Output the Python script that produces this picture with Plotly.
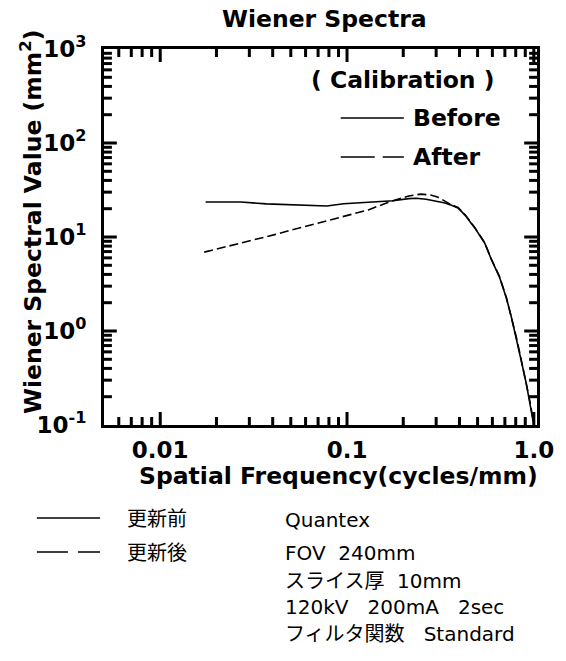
import plotly.graph_objects as go
import math

# ---- data ----
freq_before = [0.0175, 0.027, 0.037, 0.048, 0.061, 0.078, 0.096, 0.12, 0.149, 0.176,
               0.214, 0.235, 0.265, 0.297, 0.335, 0.365, 0.393, 0.428, 0.483, 0.546,
               0.594, 0.655, 0.713, 0.758, 0.805, 0.855, 0.910, 0.955, 0.991]
wiener_before = [23.6, 23.6, 22.5, 22.2, 21.6, 21.4, 22.6, 23.1, 23.6, 24.3,
                 25.6, 25.8, 25.2, 24.3, 23.0, 21.6, 20.4, 17.1, 12.5, 8.6,
                 5.7, 3.75, 2.24, 1.41, 0.86, 0.49, 0.28, 0.17, 0.11]

freq_after = [0.0172, 0.021, 0.027, 0.033, 0.041, 0.05, 0.062, 0.076, 0.093, 0.112,
              0.13, 0.168, 0.214, 0.248, 0.28, 0.305, 0.365, 0.393, 0.428, 0.483,
              0.546, 0.594, 0.655, 0.713, 0.758, 0.805, 0.855, 0.91, 0.955, 1.0]
wiener_after = [6.9, 7.6, 8.5, 9.5, 10.6, 11.8, 13.2, 14.6, 16.3, 18.0,
                19.4, 23.6, 27.3, 28.6, 28.0, 26.7, 21.8, 20.6, 17.3, 12.6,
                8.7, 5.75, 3.8, 2.26, 1.43, 0.87, 0.50, 0.285, 0.175, 0.1]

x_major_vals = [0.01, 0.1, 1.0]
x_major_text = ["0.01", "0.1", "1.0"]
y_major_vals = [0.1, 1, 10, 100, 1000]
y_major_text = ["10<sup>-1</sup>", "10<sup>0</sup>", "10<sup>1</sup>", "10<sup>2</sup>", "10<sup>3</sup>"]
digits = [2, 3, 4, 5, 6, 7, 8, 9]
x_decades = [0.001, 0.01, 0.1]
y_decades = [0.1, 1, 10, 100]

title_text = "Wiener Spectra"
x_title = "Spatial Frequency(cycles/mm)"
y_title = "Wiener Spectral Value (mm<sup>2</sup>)"
legend_head = "( Calibration )"
legend_names = ["Before", "After"]
jp_legend = ["更新前", "更新後"]
conditions = ["Quantex",
              "FOV\u00a0\u00a0240mm",
              "スライス厚\u00a0\u00a010mm",
              "120kV\u00a0\u00a0\u00a0200mA\u00a0\u00a0\u00a02sec",
              "フィルタ関数\u00a0\u00a0\u00a0Standard"]

# ---- layout geometry ----
W, H = 566, 661
L, R, T, B = 104, 23, 49, 236
PW, PH = W - L - R, H - T - B
X_MIN, X_MAX = 0.005, 1.04
Y_MIN, Y_MAX = 0.1, 1000
MINOR_LEN, MAJOR_LEN, TICK_W = 8, 13, 3

def px(xp):
    return (xp - L) / PW

def py(yp):
    return (H - B - yp) / PH

BOLD = dict(family="DejaVu Sans", color="black", size=23.5, weight="bold")
TICKF = dict(family="DejaVu Sans", color="black", size=23, weight="bold")
REG = dict(family="DejaVu Sans, Noto Sans CJK JP", color="black", size=20)

x_minor = [d * dec for dec in x_decades for d in digits if X_MIN < d * dec < X_MAX]
y_minor = [d * dec for dec in y_decades for d in digits if Y_MIN < d * dec < Y_MAX]

fig = go.Figure()
fig.add_trace(go.Scatter(x=freq_before, y=wiener_before, mode="lines",
                         name=legend_names[0], showlegend=False,
                         line=dict(color="black", width=1.6)))
fig.add_trace(go.Scatter(x=freq_after, y=wiener_after, mode="lines",
                         name=legend_names[1], showlegend=False,
                         line=dict(color="black", width=1.6, dash="9px,4px")))

fig.update_layout(
    xaxis=dict(type="log", range=[math.log10(X_MIN), math.log10(X_MAX)],
               showgrid=False, zeroline=False, ticks="",
               tickmode="array", tickvals=x_major_vals, ticktext=x_major_text,
               showline=True, linecolor="black", linewidth=3, mirror=True,
               tickfont=TICKF, ticklabelstandoff=2),
    yaxis=dict(type="log", range=[math.log10(Y_MIN), math.log10(Y_MAX)],
               showgrid=False, zeroline=False, ticks="",
               tickmode="array", tickvals=y_major_vals, ticktext=y_major_text,
               showline=True, linecolor="black", linewidth=3, mirror=True,
               tickfont=TICKF, ticklabelstandoff=10),
)

# inward tick marks on all four sides, placed through the axes' own scales
shapes = []
tick_line = dict(color="black", width=TICK_W)
for vals, ln in ((x_minor, MINOR_LEN), (x_major_vals, MAJOR_LEN)):
    for v in vals:
        if X_MIN < v < X_MAX:
            shapes.append(dict(type="line", xref="x", yref="paper", x0=v, x1=v,
                               y0=0, y1=ln / PH, line=tick_line, layer="above"))
            shapes.append(dict(type="line", xref="x", yref="paper", x0=v, x1=v,
                               y0=1, y1=1 - ln / PH, line=tick_line, layer="above"))
for vals, ln in ((y_minor, MINOR_LEN), (y_major_vals, MAJOR_LEN)):
    for v in vals:
        if Y_MIN < v < Y_MAX:
            shapes.append(dict(type="line", xref="paper", yref="y", y0=v, y1=v,
                               x0=0, x1=ln / PW, line=tick_line, layer="above"))
            shapes.append(dict(type="line", xref="paper", yref="y", y0=v, y1=v,
                               x0=1, x1=1 - ln / PW, line=tick_line, layer="above"))

# legend samples
legend_shapes = [
    dict(type="line", x0=px(344), x1=px(408), y0=py(118), y1=py(118),
         line=dict(color="black", width=1.6)),
    dict(type="line", x0=px(344), x1=px(408), y0=py(157), y1=py(157),
         line=dict(color="black", width=1.6, dash="34px,8px")),
    dict(type="line", x0=px(36), x1=px(100), y0=py(518), y1=py(518),
         line=dict(color="black", width=1.6)),
    dict(type="line", x0=px(36), x1=px(100), y0=py(552), y1=py(552),
         line=dict(color="black", width=1.6, dash="31px,10px")),
]
for s in legend_shapes:
    s.update(xref="paper", yref="paper")
shapes += legend_shapes

ann = []
ann.append(dict(text=title_text, x=px(328), y=py(19), font=BOLD))
ann.append(dict(text=x_title, x=px(342), y=py(476), font=BOLD))
ann.append(dict(text=y_title, x=px(30), y=py(222), textangle=-90, font=BOLD))
ann.append(dict(text=legend_head, x=px(407), y=py(80), font=BOLD))
ann.append(dict(text=legend_names[0], x=px(415), y=py(118), xanchor="left", font=BOLD))
ann.append(dict(text=legend_names[1], x=px(415), y=py(157), xanchor="left", font=BOLD))
ann.append(dict(text=jp_legend[0], x=px(125), y=py(519), xanchor="left", font=REG))
ann.append(dict(text=jp_legend[1], x=px(125), y=py(553), xanchor="left", font=REG))
cond_y = [520, 553, 581, 607, 634]
for t, yy in zip(conditions, cond_y):
    ann.append(dict(text=t, x=px(285), y=py(yy), xanchor="left", font=REG))
for a in ann:
    a.update(xref="paper", yref="paper", showarrow=False)
    a.setdefault("xanchor", "center")
    a.setdefault("yanchor", "middle")

fig.update_layout(width=W, height=H, margin=dict(l=L, r=R, t=T, b=B),
                  paper_bgcolor="white", plot_bgcolor="white",
                  showlegend=False, annotations=ann, shapes=shapes)

fig.write_html("out.html", config={"displayModeBar": False},
               post_script="document.body.style.margin='0px';document.body.style.overflow='hidden';")
